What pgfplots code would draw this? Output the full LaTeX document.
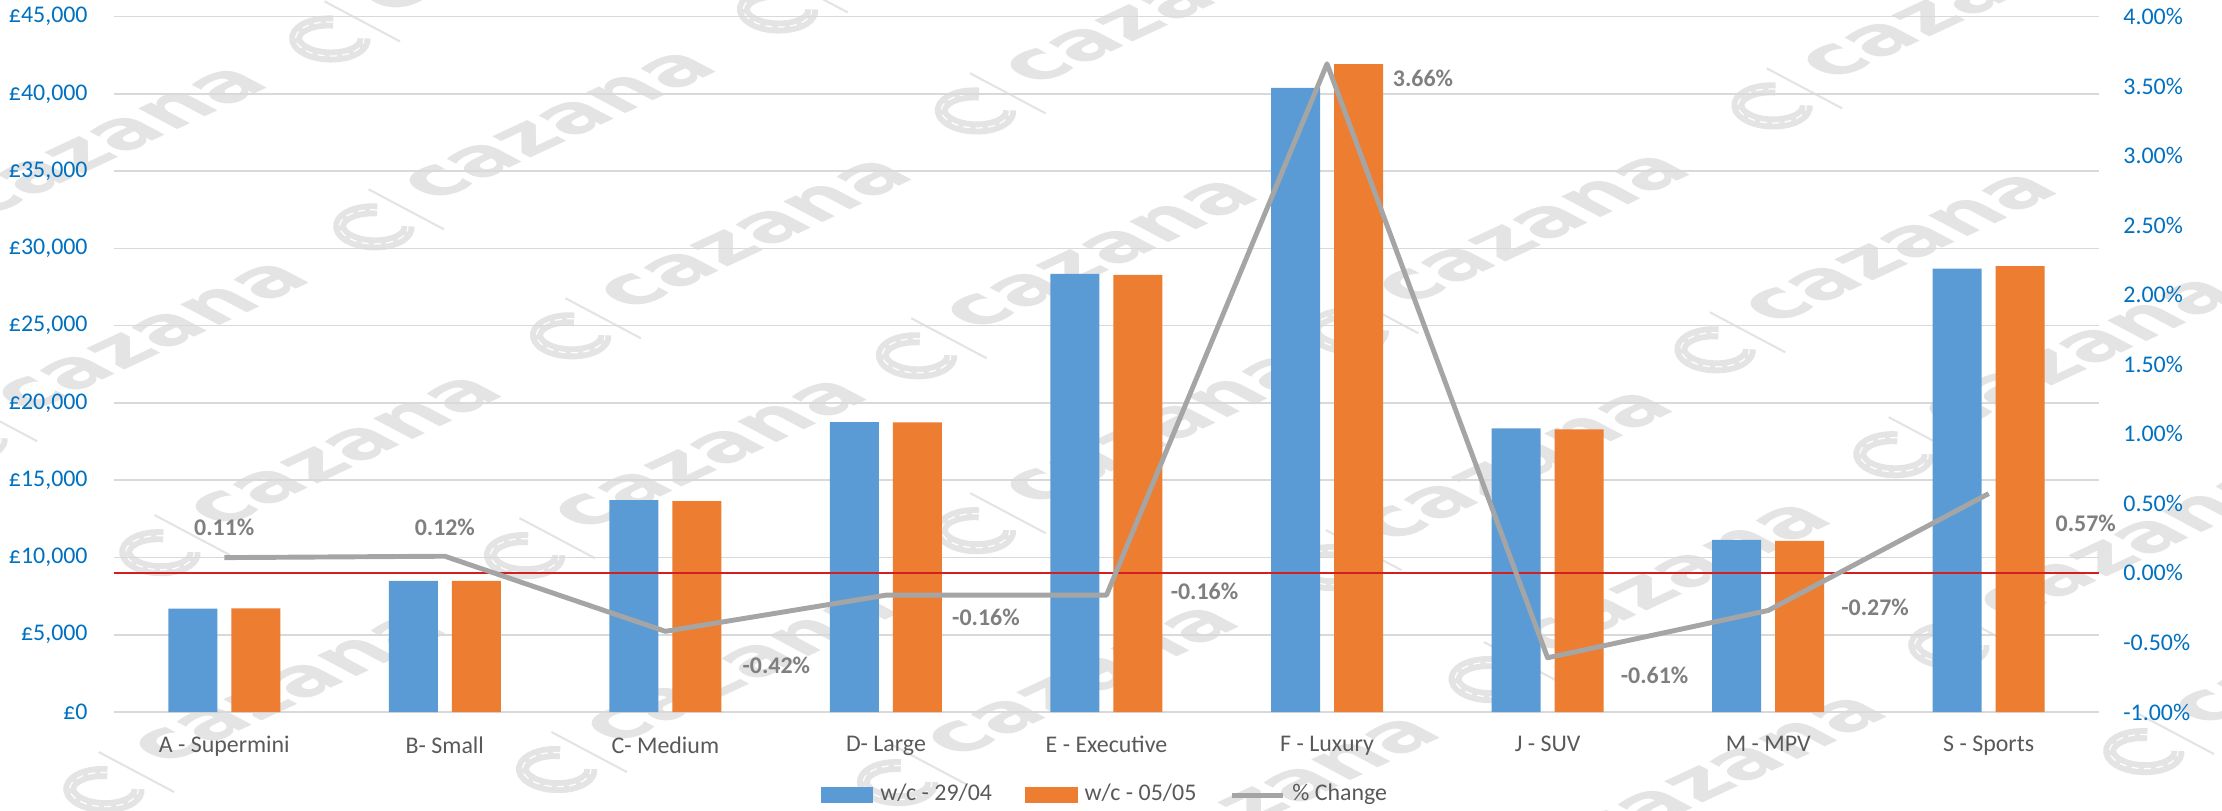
\documentclass[border=0pt]{standalone}
\usepackage{pgfplots}
\pgfplotsset{compat=1.18}
\usepackage{fontspec}
\setmainfont{Carlito}
\newfontfamily\wmfont{DejaVu Sans}
\definecolor{cblue}{HTML}{5B9BD5}
\definecolor{corange}{HTML}{ED7D31}
\definecolor{cgray}{HTML}{A5A5A5}
\definecolor{gridc}{HTML}{D9D9D9}
\definecolor{tickblue}{HTML}{0070C0}
\definecolor{txt}{HTML}{595959}
\definecolor{lbl}{HTML}{7F7F7F}
\definecolor{zred}{HTML}{D02020}
\definecolor{wmc}{HTML}{E4E4E4}
% watermark: logo centre at image pixel (x from left, y from top)
\newcommand{\wmark}[2]{%
  \begin{scope}[shift={({0.01*(#1)},{8.10-0.01*(#2)})}, cm={0.906,0.423,-0.883,0.469,(0,0)}]
    \draw[wmc, line width=0.13cm] (40:0.27) arc[start angle=40, end angle=320, radius=0.27];
    \draw[white, line width=0.35pt, dash pattern=on 2pt off 1.5pt] (40:0.27) arc[start angle=40, end angle=320, radius=0.27];
    \draw[wmc, line width=0.6pt] (0.385,-0.40) -- (0.385,0.455);
    \node[transform shape, anchor=base west, inner sep=0pt, text=wmc,
      font=\wmfont\bfseries\fontsize{23}{23}\selectfont] at (0.62,-0.05) {cazana};
  \end{scope}}
\begin{document}
\begin{tikzpicture}[font=\fontsize{6.8}{8}\selectfont]
\useasboundingbox (0,0) rectangle (22.22,8.10);
\wmark{330}{39}
\wmark{778}{10}
\wmark{976}{111}
\wmark{1773}{106}
\wmark{374}{227}
\wmark{571}{336}
\wmark{917}{356}
\wmark{1349}{331}
\wmark{1716}{350}
\wmark{160}{553}
\wmark{525}{556}
\wmark{976}{531}
\wmark{1332}{568}
\wmark{1895}{455}
\wmark{104}{790}
\wmark{557}{770}
\wmark{898}{783}
\wmark{1490}{680}
\wmark{1950}{646}
\wmark{2145}{752}
\wmark{-33}{439}
\wmark{-75}{243}
\wmark{1099}{894}
\wmark{1546}{873}
\begin{axis}[
  at={(1.14cm,0.98cm)}, anchor=south west,
  scale only axis, width=19.85cm, height=6.955cm,
  xmin=-0.5, xmax=8.5, ymin=0, ymax=45000,
  axis line style={draw=none},
  tick style={draw=none},
  ytick={0,5000,...,45000},
  ymajorgrids, grid style={gridc, line width=0.45pt},
  xtick={0,...,8},
  xticklabels={A - Supermini, B- Small, C- Medium, D- Large, E - Executive, F - Luxury, J - SUV, M - MPV, S - Sports},
  xticklabel style={text=txt, yshift=-0.12cm},
  yticklabel style={text=tickblue, xshift=-0.14cm},
  scaled y ticks=false,
  /pgf/number format/assume math mode=true,
  yticklabel={£\pgfmathprintnumber[fixed,precision=0,1000 sep={,}]{\tick}},
]
\addplot[ybar, bar width=0.49cm, bar shift=-0.315cm, fill=cblue, draw=none]
  coordinates {(0,6690)(1,8490)(2,13710)(3,18760)(4,28350)(5,40390)(6,18350)(7,11130)(8,28690)};
\addplot[ybar, bar width=0.49cm, bar shift=0.315cm, fill=corange, draw=none]
  coordinates {(0,6700)(1,8490)(2,13640)(3,18740)(4,28280)(5,41920)(6,18290)(7,11070)(8,28850)};
\end{axis}
\begin{axis}[
  at={(1.14cm,0.98cm)}, anchor=south west,
  scale only axis, width=19.85cm, height=6.955cm,
  xmin=-0.5, xmax=8.5, ymin=-1, ymax=4,
  clip=false,
  axis x line=none, axis y line*=right,
  axis line style={draw=none},
  tick style={draw=none},
  ytick={-1,-0.5,...,4},
  yticklabel style={text=tickblue, xshift=0.12cm},
  /pgf/number format/assume math mode=true,
  yticklabel={\pgfmathprintnumber[fixed,fixed zerofill,precision=2]{\tick}\%},
  legend columns=3,
  legend style={at={(0.5005,-0.1195)}, anchor=center, draw=none, fill=none,
    text=txt, /tikz/every even column/.append style={column sep=0.26cm}},
]
\addlegendimage{legend image code/.code={\fill[cblue] (0cm,-0.07cm) rectangle (0.51cm,0.07cm);}}
\addlegendentry{w/c - 29/04}
\addlegendimage{legend image code/.code={\fill[corange] (0cm,-0.07cm) rectangle (0.51cm,0.07cm);}}
\addlegendentry{w/c - 05/05}
\addplot[zred, line width=0.4pt, forget plot] coordinates {(-0.5,0)(8.5,0)};
\addplot[cgray, line width=1.4pt, line join=round,
  legend image code/.code={\draw[cgray,line width=1.4pt] (0cm,0cm) -- (0.51cm,0cm);}]
  coordinates {(0,0.11)(1,0.12)(2,-0.42)(3,-0.16)(4,-0.16)(5,3.66)(6,-0.61)(7,-0.27)(8,0.57)};
\addlegendentry{\% Change}
\tikzset{dl/.style={text=lbl, font=\fontsize{6.8}{8}\selectfont\bfseries}}
\node[dl, yshift=0.30cm] at (axis cs:0,0.11) {0.11\%};
\node[dl, yshift=0.29cm] at (axis cs:1,0.12) {0.12\%};
\node[dl, xshift=1.11cm, yshift=-0.34cm] at (axis cs:2,-0.42) {-0.42\%};
\node[dl, xshift=1.00cm, yshift=-0.22cm] at (axis cs:3,-0.16) {-0.16\%};
\node[dl, xshift=0.98cm, yshift=0.04cm] at (axis cs:4,-0.16) {-0.16\%};
\node[dl, xshift=0.96cm, yshift=-0.15cm] at (axis cs:5,3.66) {3.66\%};
\node[dl, xshift=1.07cm, yshift=-0.18cm] at (axis cs:6,-0.61) {-0.61\%};
\node[dl, xshift=1.07cm, yshift=0.03cm] at (axis cs:7,-0.27) {-0.27\%};
\node[dl, xshift=0.97cm, yshift=-0.30cm] at (axis cs:8,0.57) {0.57\%};
\end{axis}
\end{tikzpicture}
\end{document}
